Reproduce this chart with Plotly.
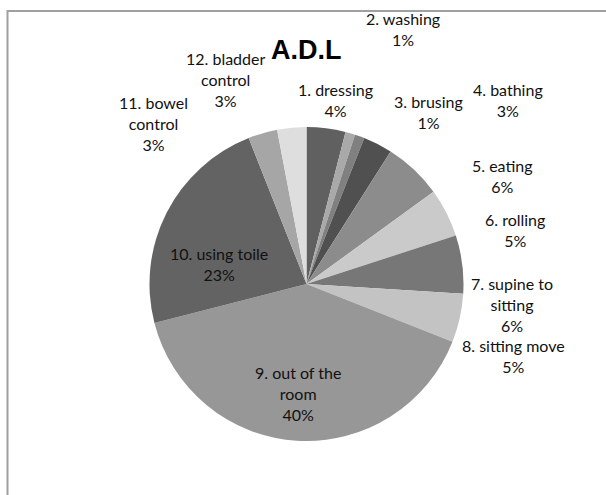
import plotly.graph_objects as go

categories = ["1. dressing", "2. washing", "3. brusing", "4. bathing", "5. eating",
              "6. rolling", "7. supine to<br>sitting", "8. sitting move",
              "9. out of the<br>room", "10. using toile", "11. bowel<br>control",
              "12. bladder<br>control"]
values = [4, 1, 1, 3, 6, 5, 6, 5, 40, 23, 3, 3]
colors = ["#606060", "#a9a9a9", "#808080", "#505050", "#8c8c8c", "#cacaca",
          "#777777", "#c3c3c3", "#979797", "#636363", "#a6a6a6", "#dedede"]

W, H = 606, 495
cx, cy, R = 306.5, 284, 157

# label centre offsets from pie centre (pixels), layout only
label_offsets = [(28.5, -184), (96.5, -255), (121.5, -172), (201.5, -184),
                 (195.5, -108), (208.5, -54), (205.5, 20), (206.5, 72),
                 (-8.5, 109), (-87.5, -20), (-153.5, -161), (-81.5, -205)]

fig = go.Figure(go.Pie(
    labels=categories, values=values, sort=False, direction="clockwise",
    rotation=0, marker=dict(colors=colors, line=dict(width=0)),
    textinfo="none", hoverinfo="label+percent", showlegend=False,
    domain=dict(x=[(cx - R) / W, (cx + R) / W],
                y=[(H - cy - R) / H, (H - cy + R) / H]),
))

total = sum(values)
for cat, v, (dx, dy) in zip(categories, values, label_offsets):
    fig.add_annotation(
        x=(cx + dx) / W, y=(H - (cy + dy)) / H, xref="paper", yref="paper",
        text=f"{cat}<br>{round(100 * v / total)}%", showarrow=False,
        xanchor="center", yanchor="middle", align="center",
        font=dict(family="Lato, Liberation Sans, sans-serif", size=16, color="#111111"),
    )

fig.add_annotation(
    x=306 / W, y=(H - 50) / H, xref="paper", yref="paper", text="<b>A.D.L</b>",
    showarrow=False, xanchor="center", yanchor="middle",
    font=dict(family="Liberation Sans, Arial, sans-serif", size=27, color="#000000"),
)

fig.add_shape(type="rect", xref="paper", yref="paper",
              x0=7.5 / W, x1=1.2, y0=-0.2, y1=(H - 11) / H,
              line=dict(color="#a0a0a0", width=2), fillcolor="rgba(0,0,0,0)")

fig.update_layout(width=W, height=H, margin=dict(l=0, r=0, t=0, b=0),
                  paper_bgcolor="white", plot_bgcolor="white")

fig.write_html("out.html")
